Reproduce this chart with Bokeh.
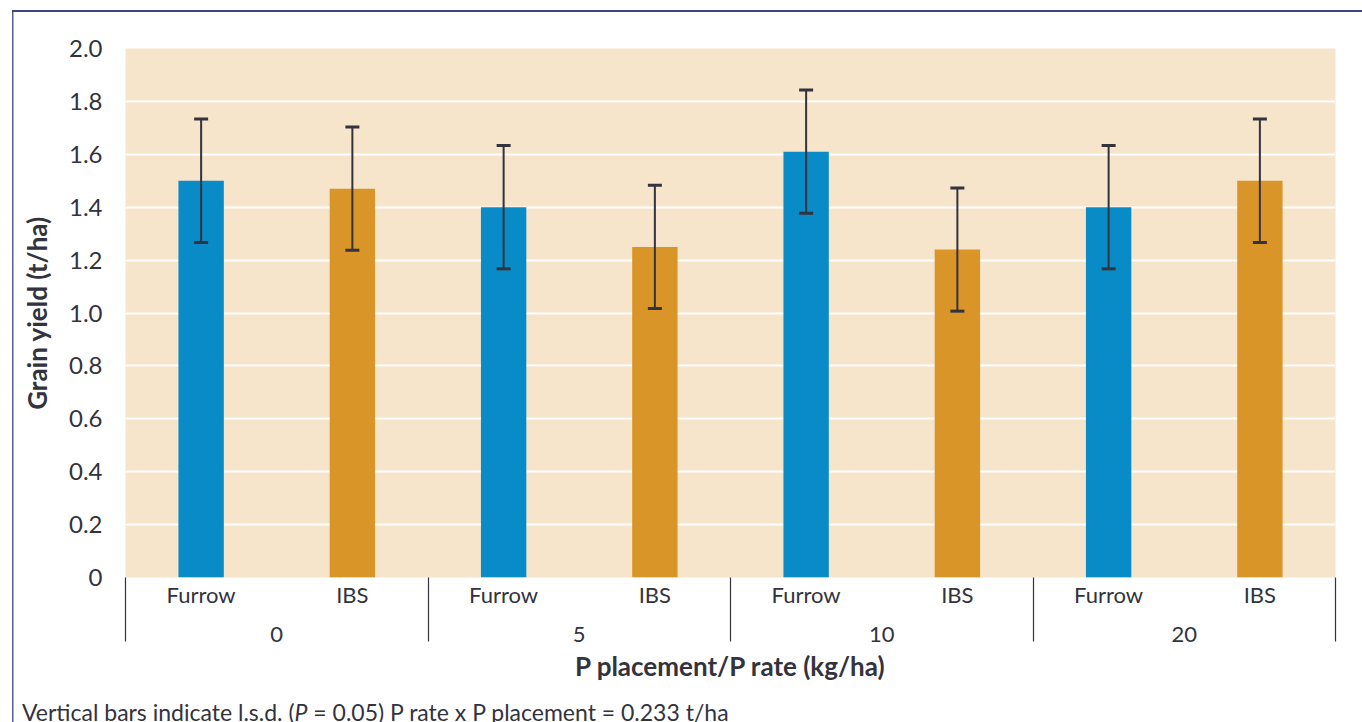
from bokeh.plotting import figure
from bokeh.layouts import column
from bokeh.models import ColumnDataSource, Range1d, LinearAxis, FixedTicker, Whisker, TeeHead, Div
from bokeh.embed import file_html
from bokeh.resources import INLINE

# ---- data ----
rates = ["0", "5", "10", "20"]
placements = ["Furrow", "IBS"]
grain_yield = [1.50, 1.47, 1.40, 1.25, 1.61, 1.24, 1.40, 1.50]
lsd = 0.233
y_ticks = [0, 0.2, 0.4, 0.6, 0.8, 1.0, 1.2, 1.4, 1.6, 1.8, 2.0]
y_tick_labels = ["0", "0.2", "0.4", "0.6", "0.8", "1.0", "1.2", "1.4", "1.6", "1.8", "2.0"]
caption_html = "Vertical bars indicate l.s.d. (<i>P</i> = 0.05) P rate x P placement = 0.233 t/ha"

BLUE = "#088bc7"
ORANGE = "#da9528"
BG = "#f6e4cb"
TXT = "#33333d"
FONT = "Lato"

factors = [(r, pl) for r in rates for pl in placements]
n = len(factors)
xpos = [i + 0.5 for i in range(n)]           # centre of each category slot
colors = [BLUE if pl == "Furrow" else ORANGE for r, pl in factors]
src = ColumnDataSource(dict(x=xpos, y=grain_yield, color=colors,
                            upper=[v + lsd for v in grain_yield],
                            lower=[v - lsd for v in grain_yield]))

p = figure(width=1362, height=701, x_range=Range1d(0, n), y_range=Range1d(0, 2.0),
           output_backend="svg", toolbar_location=None, x_axis_location=None,
           min_border_left=125, min_border_right=27, min_border_top=48, min_border_bottom=124,
           background_fill_color=BG, border_fill_color=None, outline_line_color=None)

p.vbar(x="x", top="y", width=0.3, source=src, fill_color="color", line_color=None)

w = Whisker(base="x", upper="upper", lower="lower", source=src, line_color=TXT, line_width=2,
            level="annotation",
            upper_head=TeeHead(size=14, line_color=TXT, line_width=3),
            lower_head=TeeHead(size=14, line_color=TXT, line_width=3))
p.add_layout(w)

# y axis
ya = p.yaxis[0]
ya.ticker = FixedTicker(ticks=y_ticks)
ya.major_label_overrides = {t: l for t, l in zip(y_ticks, y_tick_labels)}
ya.axis_line_color = None
ya.major_tick_line_color = None
ya.minor_tick_line_color = None
ya.major_label_standoff = 17
ya.major_label_text_font = FONT
ya.major_label_text_font_size = "24px"
ya.major_label_text_color = TXT
ya.axis_label = "Grain yield (t/ha)"
ya.axis_label_text_font = FONT
ya.axis_label_text_font_style = "bold"
ya.axis_label_text_font_size = "26px"
ya.axis_label_text_color = TXT
ya.axis_label_standoff = 13

p.xgrid.visible = False
p.ygrid.ticker = FixedTicker(ticks=y_ticks)
p.ygrid.grid_line_color = "white"
p.ygrid.grid_line_width = 2

# bottom: sub-category labels + group separators
sep_pos = [len(placements) * i for i in range(len(rates) + 1)]
ax1 = LinearAxis(ticker=FixedTicker(ticks=xpos, minor_ticks=sep_pos),
                 major_label_overrides={pos: f[1] for pos, f in zip(xpos, factors)})
ax1.axis_line_color = None
ax1.major_tick_line_color = None
ax1.major_tick_out = 0
ax1.major_tick_in = 0
ax1.minor_tick_out = 64
ax1.minor_tick_in = 0
ax1.minor_tick_line_color = TXT
ax1.minor_tick_line_width = 1.2
ax1.major_label_standoff = -61
ax1.major_label_text_font = FONT
ax1.major_label_text_font_size = "22px"
ax1.major_label_text_color = TXT
p.add_layout(ax1, "below")

grp_pos = [len(placements) * i + len(placements) / 2 for i in range(len(rates))]
ax2 = LinearAxis(ticker=FixedTicker(ticks=grp_pos, minor_ticks=[]),
                 major_label_overrides={pos: r for pos, r in zip(grp_pos, rates)})
ax2.axis_line_color = None
ax2.major_tick_line_color = None
ax2.major_tick_out = 0
ax2.major_tick_in = 0
ax2.major_label_standoff = 16
ax2.major_label_text_font = FONT
ax2.major_label_text_font_size = "22px"
ax2.major_label_text_color = TXT
ax2.axis_label = "P placement/P rate (kg/ha)"
ax2.axis_label_text_font = FONT
ax2.axis_label_text_font_style = "bold"
ax2.axis_label_text_font_size = "26px"
ax2.axis_label_text_color = TXT
ax2.axis_label_standoff = 5
p.add_layout(ax2, "below")

caption = Div(text=caption_html, width=1330, height=21, margin=(0, 0, 0, 22),
              styles={"font-family": FONT, "font-size": "23px", "line-height": "23px",
                      "color": TXT, "white-space": "nowrap"})

frame_css = ("linear-gradient(#3b4879, #3b4879) 12px 10px / 100% 2px no-repeat, "
             "linear-gradient(#56648f, #56648f) 12px 10px / 1.5px 100% no-repeat, #ffffff")
layout = column(p, caption, spacing=0, styles={"background": frame_css})

open("out.html", "w").write(file_html(layout, INLINE))
